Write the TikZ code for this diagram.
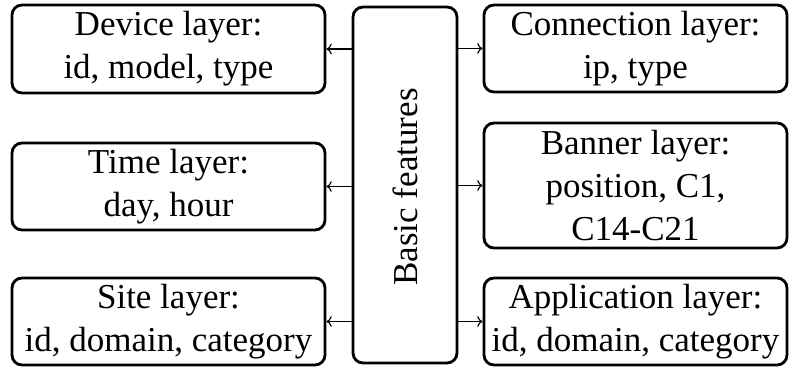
\documentclass[tikz,border=0pt]{standalone}
\usepackage{fontspec}
\setmainfont{Liberation Serif}
\usetikzlibrary{arrows.meta}
\begin{document}
\begin{tikzpicture}[x=0.3pt,y=-0.3pt,
  layerbox/.style={draw, line width=0.85pt, rounded corners=3pt, inner sep=0pt,
    align=center, font=\fontsize{10.5}{12.9}\selectfont, minimum width=#1},
  link/.style={line width=0.35pt, -{To[length=1.6pt,width=3.2pt]}}]
\useasboundingbox (0,0) rectangle (789,367);
% left boxes
\node[layerbox=93.9pt, minimum height=26.4pt] (dev) at (168.5,49) {Device layer:\\id, model, type};
\node[layerbox=93.9pt, minimum height=26.1pt] (time) at (168.5,186.5) {Time layer:\\day, hour};
\node[layerbox=93.9pt, minimum height=26.1pt] (site) at (168.5,321.5) {Site layer:\\id, domain, category};
% center box
\node[layerbox=31.2pt, minimum height=106.8pt] (basic) at (405,185) {};
\node[rotate=90, font=\fontsize{10.5}{12.9}\selectfont, inner sep=0pt] (basictxt) at (405,187) {Basic features};
% right boxes
\node[layerbox=90.9pt, minimum height=26.1pt] (conn) at (635.5,48.5) {Connection layer:\\ip, type};
\node[layerbox=90.9pt, minimum height=37.5pt] (ban) at (635.5,185.5) {Banner layer:\\position, C1,\\C14-C21};
\node[layerbox=90.9pt, minimum height=26.1pt] (app) at (635.5,321.5) {Application layer:\\id, domain, category};
% connectors
\draw[link] (basic.west |- dev.east) -- (dev.east);
\draw[link] (basic.west |- time.east) -- (time.east);
\draw[link] (basic.west |- site.east) -- (site.east);
\draw[link] (basic.east |- conn.west) -- (conn.west);
\draw[link] (basic.east |- ban.west) -- (ban.west);
\draw[link] (basic.east |- app.west) -- (app.west);
\end{tikzpicture}
\end{document}
